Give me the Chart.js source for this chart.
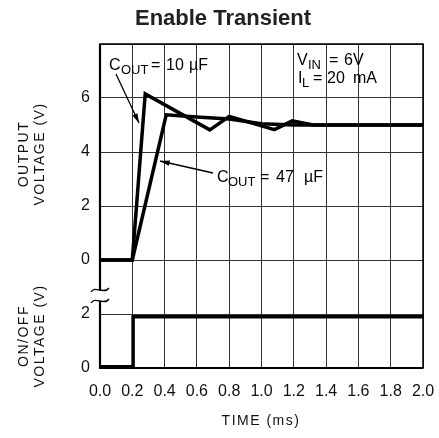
<!DOCTYPE html>
<html>
<head>
<meta charset="utf-8">
<script src="https://cdn.jsdelivr.net/npm/chart.js@4.4.1/dist/chart.umd.min.js"></script>
<style>
  html, body { margin: 0; padding: 0; background: #fff; }
  #wrap { width: 439px; height: 438px; }
</style>
</head>
<body>
<div id="wrap"><canvas id="c"></canvas></div>
<script>
// time in ms, output voltage in V (upper panel)
const cout10Time = [0, 0.2, 0.28, 0.68, 0.8, 1.08, 1.19, 1.32, 2.0];
const cout10Volt = [0, 0, 6.15, 4.82, 5.32, 4.83, 5.15, 5.0, 5.0];
const cout47Time = [0, 0.2, 0.41, 0.6, 0.8, 1.0, 1.2, 2.0];
const cout47Volt = [0, 0, 5.38, 5.3, 5.22, 5.05, 5.0, 5.0];
// on/off voltage (lower panel, shown offset by -4 on the shared axis)
const enableTime = [0, 0.205, 0.205, 2.0];
const enableVolt = [0.05, 0.05, 1.9, 1.9];
const enableOffset = -4;

const xTicks = [0, 0.2, 0.4, 0.6, 0.8, 1.0, 1.2, 1.4, 1.6, 1.8, 2.0];
const yTickLabels = { "8": "", "6": "6", "4": "4", "2": "2", "0": "0", "-2": "2", "-4": "0" };

const pts = (xs, ys, off = 0) => xs.map((x, i) => ({ x, y: ys[i] + off }));

const FONT = "'Liberation Sans', Arial, sans-serif";

const extras = {
  id: "extras",
  afterDraw(chart) {
    const ctx = chart.ctx;
    const a = chart.chartArea;
    ctx.save();

    // frame
    ctx.strokeStyle = "#000";
    ctx.lineWidth = 1.5;
    ctx.strokeRect(a.left, a.top, a.right - a.left, a.bottom - a.top);
    ctx.lineWidth = 2.2;
    ctx.beginPath();
    ctx.moveTo(a.left, a.top); ctx.lineTo(a.left, a.bottom); ctx.lineTo(a.right, a.bottom);
    ctx.stroke();

    // axis break
    ctx.fillStyle = "#fff";
    ctx.fillRect(a.left - 2, 291, 4, 10);
    ctx.strokeStyle = "#000";
    ctx.lineWidth = 1.3;
    [290, 301].forEach(y => {
      ctx.beginPath();
      ctx.moveTo(91, y + 2);
      ctx.bezierCurveTo(95, y - 5, 104, y + 5, 109, y - 2);
      ctx.stroke();
    });

    // title
    ctx.fillStyle = "#222";
    ctx.textAlign = "center";
    ctx.textBaseline = "middle";
    ctx.font = "bold 22px " + FONT;
    ctx.fillText("Enable Transient", 223, 19);

    // axis titles
    ctx.font = "14px " + FONT;
    ctx.letterSpacing = "1.5px";
    ctx.fillStyle = "#111";
    const vtext = (lines, cx, cy) => {
      ctx.save();
      ctx.translate(cx, cy);
      ctx.rotate(-Math.PI / 2);
      lines.forEach((t, i) => ctx.fillText(t, 0, (i - (lines.length - 1) / 2) * 16));
      ctx.restore();
    };
    vtext(["OUTPUT", "VOLTAGE (V)"], 32, 154);
    vtext(["ON/OFF", "VOLTAGE (V)"], 32, 336);
    ctx.fillText("TIME (ms)", 261, 421);
    ctx.letterSpacing = "0px";

    // labels with subscripts, pieces placed one by one
    ctx.textAlign = "left";
    ctx.textBaseline = "alphabetic";
    ctx.fillStyle = "#000";
    const label = (parts, y) => {
      parts.forEach(([t, x, sub]) => {
        ctx.font = (sub ? "13px " : "16px ") + FONT;
        ctx.fillText(t, x, sub ? y + 4 : y);
      });
    };
    label([["C", 109], ["OUT", 121, 1], ["=", 151], ["10", 166], ["\u00b5F", 189]], 70);
    label([["V", 297], ["IN", 308, 1], ["=", 329], ["6V", 344]], 65);
    label([["I", 298], ["L", 302, 1], ["=", 313], ["20", 327], ["mA", 353]], 83);
    label([["C", 217], ["OUT", 228, 1], ["=", 260], ["47", 276], ["\u00b5F", 304]], 182);

    // arrows
    const arrow = (x1, y1, x2, y2) => {
      ctx.lineWidth = 1.3;
      ctx.beginPath(); ctx.moveTo(x1, y1); ctx.lineTo(x2, y2); ctx.stroke();
      const ang = Math.atan2(y2 - y1, x2 - x1);
      ctx.beginPath();
      ctx.moveTo(x2, y2);
      ctx.lineTo(x2 - 10 * Math.cos(ang - 0.28), y2 - 10 * Math.sin(ang - 0.28));
      ctx.lineTo(x2 - 10 * Math.cos(ang + 0.28), y2 - 10 * Math.sin(ang + 0.28));
      ctx.closePath();
      ctx.fill();
    };
    arrow(116, 74, 139, 123);
    arrow(213, 173, 160, 161);

    ctx.restore();
  }
};

new Chart(document.getElementById("c"), {
  type: "line",
  data: {
    datasets: [
      { data: pts(cout10Time, cout10Volt), borderColor: "#000", borderWidth: 3.5 },
      { data: pts(cout47Time, cout47Volt), borderColor: "#000", borderWidth: 3.5 },
      { data: pts(enableTime, enableVolt, enableOffset), borderColor: "#000", borderWidth: 3.5 }
    ]
  },
  options: {
    responsive: true,
    maintainAspectRatio: false,
    animation: false,
    events: [],
    layout: { padding: { top: 44, right: 16, left: 0, bottom: 0 } },
    elements: { point: { radius: 0 }, line: { tension: 0, borderJoinStyle: "miter", borderCapStyle: "butt" } },
    plugins: { legend: { display: false }, tooltip: { enabled: false }, title: { display: false } },
    scales: {
      x: {
        type: "linear", min: 0, max: 2,
        afterBuildTicks: s => { s.ticks = xTicks.map(v => ({ value: v })); },
        afterFit: s => { s.height = 70; s.paddingLeft = 0; s.paddingRight = 0; },
        grid: { color: "#333", lineWidth: 1, drawTicks: false },
        border: { display: false },
        ticks: { color: "#111", font: { family: FONT, size: 16 }, padding: 14, maxRotation: 0,
                 callback: v => v.toFixed(1) }
      },
      y: {
        min: -4, max: 8,
        ticks: { stepSize: 2, color: "#111", font: { family: FONT, size: 16 }, padding: 10,
                 callback: v => yTickLabels[String(v)] },
        afterFit: s => { s.width = 100; s.paddingTop = 0; s.paddingBottom = 0; },
        grid: { color: "#333", lineWidth: 1, drawTicks: false },
        border: { display: false }
      }
    }
  },
  plugins: [extras]
});
</script>
</body>
</html>
